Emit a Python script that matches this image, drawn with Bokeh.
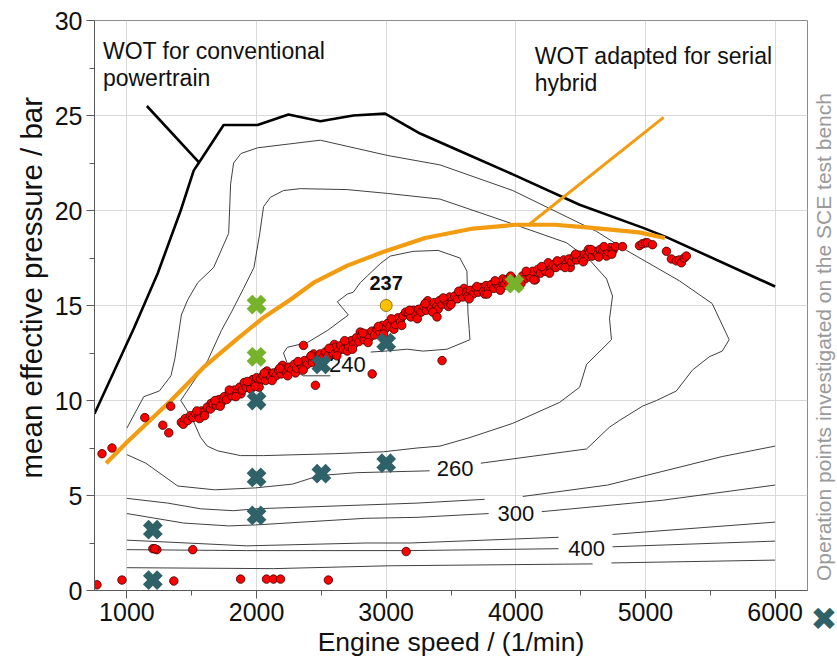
import math
from bokeh.plotting import figure
from bokeh.layouts import row
from bokeh.models import Range1d, FixedTicker, Label, Title
from bokeh.core.properties import value
from bokeh.embed import file_html
from bokeh.resources import INLINE

NAN = float("nan")
FONT = "Liberation Sans"

# ---------------- data ----------------
x_ticks = [1000, 2000, 3000, 4000, 5000, 6000]
x_minor = [1500, 2500, 3500, 4500, 5500]
y_ticks = [0, 5, 10, 15, 20, 25, 30]
y_minor = [2.5, 7.5, 12.5, 17.5, 22.5, 27.5]

wot_conv_x = [750, 1054, 1238, 1415, 1515, 1554, 1746, 2008, 2246, 2492, 2746, 2992, 3262, 3546, 3977, 4492, 4977, 5162, 6000]
wot_conv_y = [9.3, 13.8, 16.7, 20.0, 22.1, 22.5, 24.5, 24.5, 25.05, 24.7, 25.0, 25.1, 24.05, 23.2, 21.9, 20.3, 19.1, 18.6, 16.0]
pointer_x = [1154, 1554]
pointer_y = [25.5, 22.55]

wot_hyb_x = [840, 1000, 1340, 1600, 1860, 2060, 2260, 2440, 2700, 2970, 3300, 3670, 4000, 4300, 4570, 4950, 5150]
wot_hyb_y = [6.7, 7.8, 10.0, 11.8, 13.3, 14.4, 15.3, 16.2, 17.1, 17.8, 18.55, 19.05, 19.25, 19.25, 19.1, 18.85, 18.55]
hyb_pointer_x = [4100, 5140]
hyb_pointer_y = [19.25, 24.9]

c240_x = [2880, 2992, 3162, 3285, 3469, 3646, 3640, 3631, 3623, 3569, 3400, 3208, 3031, 2954, 2800, 2746, 2700, 2623, 2708, 2550, 2392, 2238, 2208, 2250, 2362, 2569]
c240_y = [12.55, 12.6, 12.7, 12.6, 12.7, 13.2, 13.8, 14.6, 16.8, 17.5, 17.9, 17.85, 17.6, 17.2, 16.2, 15.7, 15.6, 15.2, 14.5, 13.7, 13.05, 12.8, 12.5, 11.7, 11.3, 11.3]
c250_x = [2208, 2108, 2054, 2025, 1980, 1900, 1810, 1730, 1623, 1415, 1500, 1569, 1620, 1700, 1877, 2054, 2600, 2977, 3238, 3415, 3646, 3977, 4338, 4492, 4546, 4738, 4723, 4746, 4700, 4569, 4392, 3931, 3415, 3008, 2700, 2338, 2208]
c250_y = [21.05, 20.7, 20.2, 18.8, 17.0, 15.9, 14.7, 13.7, 12.1, 10.0, 9.1, 8.05, 7.6, 7.35, 7.1, 7.1, 7.2, 7.3, 7.5, 7.6, 8.05, 8.8, 9.9, 10.7, 11.9, 13.2, 14.3, 15.5, 16.4, 17.4, 18.3, 19.4, 20.6, 20.9, 21.1, 21.15, 21.05]
c260_x = [1000, 1130, 1250, 1340, 1370, 1392, 1420, 1469, 1546, 1669, 1785, 1800, 1823, 1880, 2008, 2492, 3008, 3415, 3977, 4623, 4854, 5262, 5515, 5646, 5592, 5492, 5362, 5238, 5085, 4977, 4800, 4723, 4546, 3730, NAN, 3335, 2769, 2485, 2277, 1992, 1677, 1392, 1146, 1000]
c260_y = [8.55, 10.2, 10.5, 11.3, 12.2, 13.2, 14.5, 15.3, 16.2, 17.0, 18.8, 21.4, 22.5, 23.0, 23.3, 23.7, 22.9, 22.4, 21.05, 18.9, 17.9, 16.3, 15.1, 13.2, 12.6, 12.3, 11.6, 10.5, 10.0, 9.7, 8.95, 8.6, 7.45, 6.7, NAN, 6.3, 6.2, 6.05, 5.6, 5.4, 5.3, 5.5, 6.7, 7.15]
c280_x = [1000, 1315, 1569, 1823, 1992, 3238, 3760, NAN, 4054, 4708, 5592, 6000]
c280_y = [4.85, 4.6, 4.3, 4.2, 4.3, 4.6, 4.8, NAN, 4.95, 5.55, 7.05, 7.6]
c300_x = [1000, 1438, 1785, 1992, 2838, 3238, 3790, NAN, 4200, 5131, 6000]
c300_y = [4.05, 3.55, 3.4, 3.45, 3.8, 3.85, 4.05, NAN, 4.15, 4.75, 5.55]
c350_x = [1000, 1923, 2838, 3185, 4330, NAN, 4746, 6000]
c350_y = [2.65, 2.35, 2.5, 2.5, 2.8, NAN, 2.95, 3.6]
c400_x = [1000, 1923, 3185, 4330, NAN, 4746, 6000]
c400_y = [2.15, 2.1, 2.1, 2.2, NAN, 2.3, 2.6]
c500_x = [1000, 2131, 3015, 4592, NAN, 4738, 6000]
c500_y = [1.2, 1.15, 1.3, 1.4, NAN, 1.45, 1.6]

contour_labels = ["240", "260", "300", "400"]
contour_label_x = [2700, 3531, 4000, 4546]
contour_label_y = [11.9, 6.4, 4.05, 2.2]

red_x = [1420, 1435, 1450, 1470, 1490, 1510, 1530, 1550, 1560, 1575, 1600, 1620, 1645, 1650, 1665, 1690, 1710, 1730, 1750, 1770, 1790,
         1810, 1830, 1850, 1870, 1880, 1890, 1905, 1920, 1940, 1955, 1970, 1985, 2000, 2015, 2020, 2030, 2050, 2070, 2080, 2090,
         2110, 2130, 2150, 2170, 2190, 2200, 2210, 2230, 2250, 2270, 2290, 2300, 2310, 2330, 2350, 2370, 2390, 2410, 2430, 2440,
         2450, 2470, 2490, 2500, 2510, 2530, 2550, 2570, 2590, 2600, 2610, 2630, 2650, 2670, 2690, 2700, 2710, 2730, 2750, 2770,
         2790, 2800, 2810, 2830, 2850, 2870, 2890, 2910, 2930, 2950, 2970, 2990, 3010, 3030, 3050, 3060, 3070, 3090, 3110, 3130,
         3150, 3170, 3190, 3210, 3230, 3250, 3270, 3290, 3310, 3320, 3330, 3350, 3370, 3390, 3400, 3410, 3430, 3450, 3470, 3480,
         3490, 3510, 3530, 3550, 3570, 3590, 3600, 3610, 3630, 3650, 3670, 3690, 3710, 3730, 3750, 3760, 3770, 3790, 3810, 3830,
         3850, 3870, 3890, 3900, 3910, 3930, 3950, 3970, 4030, 4050, 4070, 4090, 4110, 4130, 4150, 4170, 4190, 4210, 4230, 4250,
         4270, 4290, 4310, 4330, 4350, 4370, 4390, 4410, 4420, 4430, 4450, 4470, 4490, 4510, 4530, 4550, 4560, 4570, 4590, 4610,
         4630, 4650, 4670, 4690, 4700, 4710, 4730, 4750,
         1540, 1600, 1680, 1720, 1790, 1840, 1930, 1990, 2060, 2120, 2180, 2240, 2320, 2360, 2420, 2480, 2560, 2620, 2680, 2740,
         2820, 2860, 2940, 2980, 3040, 3120, 3180, 3240, 3300, 3360, 3440, 3500, 3560, 3640, 3700, 3780, 3840, 3880, 3960, 4040,
         4080, 4140, 4200, 4260, 4320, 4380, 4460, 4520, 4580, 4640, 4680, 4740, 4770,
         4823, 4954, 4977, 5000, 5015, 5054, 5162, 5200, 5238, 5262, 5277, 5300, 5315,
         3392, 3431, 2362, 2454, 2892, 1138, 1338, 1277, 1323, 808, 885,
         1200, 1231, 1215, 1508, 3154,
         769, 962, 1362, 1877, 2077, 2131, 2185, 2554]
red_y = [8.85, 8.75, 9.05, 8.95, 9.2, 9.1, 9.3, 9.2, 9.05, 9.45, 9.4, 9.65, 9.55, 9.85, 9.8, 9.75, 10.05, 9.9, 10.2, 10.05, 10.4,
         10.25, 10.55, 10.4, 10.7, 10.35, 10.55, 10.95, 10.7, 10.9, 10.6, 11.1, 10.85, 11.2, 10.95, 10.7, 11.15, 11.3, 11.05, 11.55, 11.4,
         11.2, 11.45, 11.3, 11.6, 11.4, 11.85, 11.65, 11.45, 11.75, 11.6, 11.9, 11.45, 11.7, 11.95, 11.8, 12.1, 11.9, 12.2, 12.0, 12.45,
         12.3, 12.1, 12.45, 11.95, 12.25, 12.55, 12.35, 12.7, 12.5, 12.95, 12.8, 12.6, 12.9, 12.7, 13.05, 12.6, 12.85, 13.15, 12.95, 13.3,
         13.1, 13.6, 13.4, 13.2, 13.5, 13.3, 13.65, 13.45, 13.75, 13.6, 13.95, 13.75, 14.05, 13.9, 14.2, 13.75, 14.0, 14.35, 14.15, 14.45,
         14.65, 14.6, 14.4, 14.75, 14.5, 14.8, 14.65, 14.95, 14.75, 15.25, 15.0, 14.85, 15.15, 14.95, 14.8, 15.25, 15.05, 15.3, 15.15, 14.95,
         15.45, 15.25, 15.5, 15.35, 15.65, 15.45, 15.9, 15.7, 15.5, 15.8, 15.6, 15.9, 15.7, 15.95, 15.75, 15.6, 16.05, 15.85, 16.1, 15.9,
         16.15, 16.0, 16.25, 16.4, 16.05, 16.35, 16.15, 16.45, 16.3, 16.55, 16.4, 16.7, 16.5, 16.8, 16.35, 16.9, 16.7, 17.0, 16.8, 17.25,
         16.9, 17.15, 17.0, 17.25, 17.1, 17.4, 17.2, 17.45, 17.0, 17.3, 17.55, 17.4, 17.65, 17.45, 17.7, 17.55, 17.95, 17.8, 17.6, 17.85,
         17.7, 17.95, 17.8, 18.0, 17.6, 17.85, 18.05, 17.9,
         9.45, 9.2, 10.0, 9.7, 10.55, 10.2, 11.0, 10.75, 11.45, 11.05, 11.7, 11.3, 12.05, 11.6, 12.35, 11.9, 12.75, 12.35, 13.15, 12.7,
         13.55, 13.05, 13.9, 13.5, 14.3, 13.95, 14.75, 14.3, 15.1, 14.65, 15.4, 15.05, 15.75, 15.35, 16.0, 15.6, 16.3, 15.8, 16.55, 16.15,
         16.8, 16.35, 17.05, 16.7, 17.35, 17.0, 17.7, 17.3, 17.95, 17.55, 18.1, 17.7, 18.1,
         18.1, 18.15, 18.25, 18.3, 18.3, 18.2, 17.85, 17.45, 17.35, 17.4, 17.25, 17.5, 17.6,
         14.4, 12.1, 12.9, 10.8, 11.4, 9.1, 9.7, 8.7, 8.3, 7.2, 7.5,
         2.2, 2.15, 2.2, 2.15, 2.05,
         0.3, 0.55, 0.5, 0.6, 0.6, 0.6, 0.6, 0.55]

min_x = [3000]
min_y = [15.0]
min_label = ["237"]

teal_x = [1200, 1200, 2000, 2000, 2000, 2500, 2500, 3000, 3000]
teal_y = [3.2, 0.55, 10.0, 5.95, 3.95, 6.15, 11.9, 13.05, 6.7]
green_x = [2000, 2000, 3990]
green_y = [15.05, 12.3, 16.15]

legend_text = ["Operation points investigated on the SCE test bench"]

TEAL = "#2F6268"
GREEN = "#76B22A"
ORANGE = "#F39C12"

W_MAIN, W_LEG, H = 811, 25, 663
BORDERS = dict(min_border_top=20, min_border_bottom=73)

# ---------------- main figure ----------------
p = figure(width=W_MAIN, height=H, x_range=Range1d(750, 6250), y_range=Range1d(0, 30),
           output_backend="svg", toolbar_location=None,
           min_border_left=94, min_border_right=4, **BORDERS)
p.background_fill_color = "white"
p.border_fill_color = "white"
p.outline_line_color = "#8c8c8c"
p.outline_line_width = 1

p.xaxis.ticker = FixedTicker(ticks=x_ticks, minor_ticks=x_minor)
p.yaxis.ticker = FixedTicker(ticks=y_ticks, minor_ticks=y_minor)
p.xgrid.ticker = FixedTicker(ticks=x_ticks)
p.ygrid.ticker = FixedTicker(ticks=y_ticks)
p.grid.grid_line_color = "#d9d9d9"
p.grid.grid_line_width = 1

for ax in (p.xaxis[0], p.yaxis[0]):
    ax.axis_line_color = "#595959"
    ax.major_tick_line_color = "#595959"
    ax.minor_tick_line_color = "#595959"
    ax.major_tick_out = 8
    ax.major_tick_in = 0
    ax.minor_tick_out = 5
    ax.minor_tick_in = 0
    ax.major_label_text_font = FONT
    ax.major_label_text_font_size = "25px"
    ax.major_label_text_color = "#111111"
    ax.major_label_standoff = 4

p.xaxis.axis_label = "Engine speed / (1/min)"
p.xaxis.axis_label_text_font = FONT
p.xaxis.axis_label_text_font_size = "26.5px"
p.xaxis.axis_label_text_font_style = "normal"
p.xaxis.axis_label_text_color = "#111111"
p.xaxis.axis_label_standoff = 3

p.add_layout(Title(text="mean effective pressure / bar", align="left", offset=112, standoff=8,
                   text_font=FONT, text_font_size="29.5px", text_font_style="normal",
                   text_color="#111111"), "left")

for cx, cy in [(c240_x, c240_y), (c250_x, c250_y), (c260_x, c260_y), (c280_x, c280_y),
               (c300_x, c300_y), (c350_x, c350_y), (c400_x, c400_y), (c500_x, c500_y)]:
    p.line(cx, cy, line_color="#404040", line_width=1)

p.text(x=contour_label_x, y=contour_label_y, text=contour_labels,
       text_font=value(FONT), text_font_size=value("22px"), text_color="#111111",
       text_align="center", text_baseline="middle")

p.line(wot_conv_x, wot_conv_y, line_color="black", line_width=2.6)
p.line(pointer_x, pointer_y, line_color="black", line_width=2.6)
p.line(hyb_pointer_x, hyb_pointer_y, line_color=ORANGE, line_width=3)
p.line(wot_hyb_x, wot_hyb_y, line_color=ORANGE, line_width=4.2)

p.scatter(red_x, red_y, marker="circle", size=8.5, fill_color="#FF0000",
          line_color="#3a0000", line_width=0.8)

p.scatter(min_x, min_y, marker="circle", size=12, fill_color="#FFC000",
          line_color="#7a5c00", line_width=0.8)
p.text(x=min_x, y=[16.2], text=min_label, text_font=value(FONT), text_font_size=value("20px"),
       text_font_style="bold", text_color="#111111", text_align="center", text_baseline="middle")

p.scatter(teal_x, teal_y, marker="x", size=20, line_color=TEAL, line_width=8)
p.scatter(green_x, green_y, marker="x", size=20, line_color=GREEN, line_width=8)

for txt, xx, yy in [("WOT for conventional", 815, 28.42), ("powertrain", 815, 26.97),
                    ("WOT adapted for serial", 4146, 28.12), ("hybrid", 4146, 26.72)]:
    p.add_layout(Label(x=xx, y=yy, text=txt, text_font=FONT, text_font_size="23px",
                       text_color="#111111", text_align="left", text_baseline="alphabetic"))

# ---------------- rotated legend strip (same vertical scale as the chart) ----------------
leg = figure(width=W_LEG, height=H, x_range=Range1d(0, W_LEG), y_range=Range1d(0, 30),
             x_axis_type=None, y_axis_type=None, output_backend="svg", toolbar_location=None,
             min_border_left=0, min_border_right=0, **BORDERS)
leg.outline_line_color = None
leg.background_fill_color = "white"
leg.border_fill_color = "white"
leg.grid.visible = False
leg.text(x=[12.3], y=[0.5], text=legend_text, angle=math.pi / 2,
         text_font=value(FONT), text_font_size=value("21px"), text_color="#9a9a9a",
         text_align="left", text_baseline="middle")
leg.add_layout(Title(text="\u2716", align="center", standoff=14, text_font="DejaVu Sans",
                     text_font_size="32px", text_font_style="normal", text_color=TEAL), "below")

layout = row(p, leg)
open("out.html", "w").write(file_html(layout, INLINE))
